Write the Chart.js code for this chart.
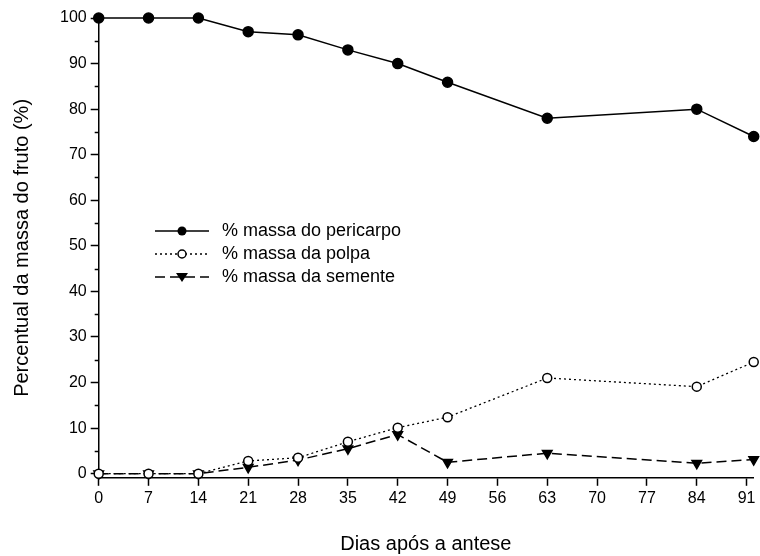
<!DOCTYPE html>
<html>
<head>
<meta charset="utf-8">
<script src="https://cdn.jsdelivr.net/npm/chart.js@4"></script>
<style>
    html, body { margin: 0; padding: 0; background: #fff; }
    #wrap { position: relative; width: 760px; height: 556px; }
    #legend {
        position: absolute; left: 155px; top: 219px;
        font-family: "Liberation Sans", Arial, sans-serif; font-size: 18px; color: #000;
    }
    #legend .row { display: flex; align-items: center; height: 23px; }
    #legend svg { width: 54px; height: 14px; margin-right: 13px; }
</style>
</head>
<body>
<div id="wrap">
    <canvas id="chart"></canvas>
    <div id="legend"></div>
</div>
<script>
// days after anthesis
const days = [0, 7, 14, 21, 28, 35, 42, 49, 63, 84, 92];
const pericarpo = [100, 100, 100, 97.0, 96.3, 93.0, 90.0, 85.9, 78.0, 80.0, 74.0];
const polpa = [0, 0, 0, 2.8, 3.5, 7.0, 10.1, 12.4, 21.0, 19.1, 24.5];
const semente = [0, 0, 0, 1.4, 3.0, 5.5, 8.6, 2.5, 4.5, 2.3, 3.1];

const xTicks = [0, 7, 14, 21, 28, 35, 42, 49, 56, 63, 70, 77, 84, 91];
const yTicks = [0, 10, 20, 30, 40, 50, 60, 70, 80, 90, 100];
const yMinorTicks = [5, 15, 25, 35, 45, 55, 65, 75, 85, 95];

const seriesNames = ['% massa do pericarpo', '% massa da polpa', '% massa da semente'];

const FONT = '"Liberation Sans", Arial, sans-serif';

function toPoints(values) {
    return days.map((d, i) => ({ x: d, y: values[i] }));
}

// short minor ticks on the y axis
const minorTicks = {
    id: 'minorTicks',
    afterDraw(chart) {
        const y = chart.scales.y;
        const ctx = chart.ctx;
        ctx.save();
        ctx.strokeStyle = '#000';
        ctx.lineWidth = 1.5;
        yMinorTicks.forEach(v => {
            const py = Math.round(y.getPixelForValue(v)) + 0.5;
            ctx.beginPath();
            ctx.moveTo(y.right - 4, py);
            ctx.lineTo(y.right, py);
            ctx.stroke();
        });
        ctx.restore();
    }
};

const axisGrid = {
    display: true,
    drawOnChartArea: false,
    drawTicks: true,
    tickLength: 8,
    tickWidth: 1.5,
    tickColor: '#000'
};

new Chart(document.getElementById('chart'), {
    type: 'line',
    data: {
        datasets: [
            {
                label: seriesNames[0],
                data: toPoints(pericarpo),
                borderColor: '#000',
                borderWidth: 1.5,
                pointStyle: 'circle',
                pointRadius: 5,
                pointBackgroundColor: '#000',
                pointBorderColor: '#000',
                clip: false
            },
            {
                label: seriesNames[1],
                data: toPoints(polpa),
                borderColor: '#000',
                borderWidth: 1.3,
                borderDash: [2, 3],
                pointStyle: 'circle',
                pointRadius: 4.5,
                pointBorderWidth: 1.5,
                pointBackgroundColor: '#fff',
                pointBorderColor: '#000',
                clip: false
            },
            {
                label: seriesNames[2],
                data: toPoints(semente),
                borderColor: '#000',
                borderWidth: 1.5,
                borderDash: [10, 5],
                pointStyle: 'triangle',
                pointRotation: 180,
                pointRadius: 5.5,
                pointBackgroundColor: '#000',
                pointBorderColor: '#000',
                clip: false
            }
        ]
    },
    options: {
        responsive: true,
        maintainAspectRatio: false,
        animation: false,
        layout: { padding: { left: 4, right: 0, top: 18, bottom: 0 } },
        plugins: {
            legend: { display: false },
            tooltip: { enabled: false }
        },
        scales: {
            x: {
                type: 'linear',
                min: 0,
                max: 91.9,
                afterBuildTicks: axis => { axis.ticks = xTicks.map(v => ({ value: v })); },
                grid: axisGrid,
                border: { display: true, color: '#000', width: 1.5 },
                ticks: { color: '#000', font: { family: FONT, size: 16 }, padding: 3, maxRotation: 0 },
                title: {
                    display: true,
                    text: 'Dias após a antese',
                    color: '#000',
                    font: { family: FONT, size: 20 },
                    padding: { top: 21, bottom: 0 }
                }
            },
            y: {
                min: -0.9,
                max: 100,
                afterBuildTicks: axis => { axis.ticks = yTicks.map(v => ({ value: v })); },
                grid: axisGrid,
                border: { display: true, color: '#000', width: 1.5 },
                ticks: { color: '#000', font: { family: FONT, size: 16 }, padding: 4 },
                title: {
                    display: true,
                    text: 'Percentual da massa do fruto (%)',
                    color: '#000',
                    font: { family: FONT, size: 20 },
                    padding: { top: 6, bottom: 22 }
                }
            }
        }
    },
    plugins: [minorTicks]
});

// legend inside the plot, like the original figure
const legendSamples = [
    '<line x1="0" y1="7" x2="54" y2="7" stroke="#000" stroke-width="1.5"/><circle cx="27" cy="7" r="4.5" fill="#000"/>',
    '<line x1="0" y1="7" x2="54" y2="7" stroke="#000" stroke-width="1.3" stroke-dasharray="2 3"/><circle cx="27" cy="7" r="4" fill="#fff" stroke="#000" stroke-width="1.5"/>',
    '<line x1="0" y1="7" x2="54" y2="7" stroke="#000" stroke-width="1.5" stroke-dasharray="10 5"/><polygon points="21,3 33,3 27,12" fill="#000"/>'
];
document.getElementById('legend').innerHTML = seriesNames.map((name, i) => `
    <div class="row"><svg viewBox="0 0 54 14">${legendSamples[i]}</svg><span>${name}</span></div>
`).join('');
</script>
</body>
</html>
